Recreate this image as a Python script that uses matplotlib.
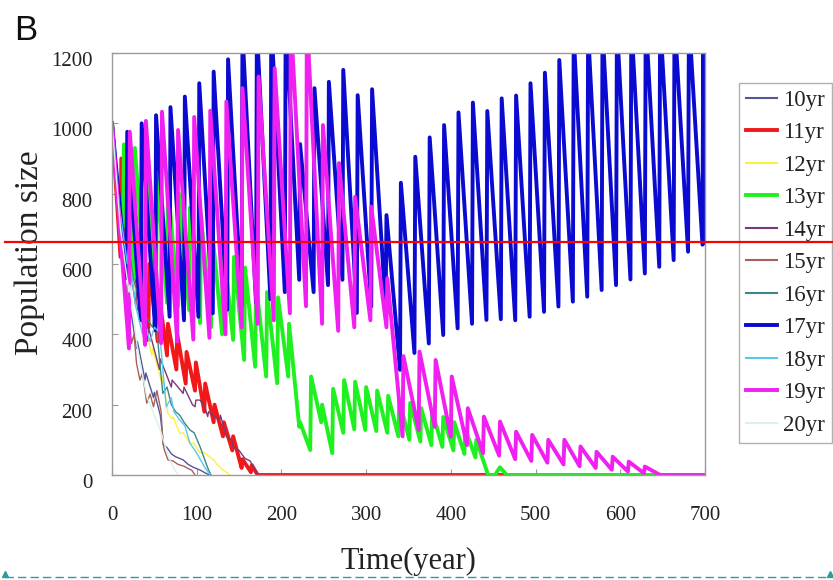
import matplotlib
matplotlib.use("Agg")
import matplotlib.pyplot as plt
import matplotlib.transforms as mtransforms
from matplotlib.lines import Line2D

plt.rcParams['font.family'] = ['Liberation Serif', 'DejaVu Serif']

# ---- data (year, population size) ----
t10 = [0, 9, 10, 19, 20, 29, 30, 39, 40, 49, 50, 57, 61, 65, 70, 75, 84, 90, 96, 104, 110, 115]
p10 = [1000, 640, 700, 470, 500, 360, 380, 270, 290, 220, 235, 170, 85, 78, 60, 52, 43, 30, 22, 14, 6, 0]

t11 = [0, 10, 11, 21, 22, 32, 33, 43, 44, 54, 55, 65, 66, 76, 77, 87, 88, 98, 99, 109, 110,
       120, 121, 131, 132, 142, 143, 153, 154, 164, 165, 172, 700]
p11 = [1000, 620, 900, 540, 780, 470, 680, 420, 600, 380, 520, 340, 430, 300, 400, 260, 350,
       240, 320, 180, 260, 150, 200, 110, 150, 70, 110, 20, 45, 8, 28, 0, 0]

t12 = [0, 11, 12, 23, 24, 35, 36, 47, 48, 59, 60, 66, 71, 72, 80, 84, 92, 96, 104, 108, 120, 124, 131, 135, 139]
p12 = [1000, 700, 760, 540, 580, 430, 460, 340, 360, 260, 280, 175, 160, 165, 118, 120, 90, 92, 62, 65, 43, 30, 14, 8, 0]

t13 = [0, 13, 14, 26, 27, 39, 40, 52, 53, 65, 66, 78, 79, 91, 92, 104, 105, 117, 118, 130, 131,
       143, 144, 156, 157, 169, 170, 182, 183, 195, 196, 208, 209, 221, 222, 234, 235, 247, 248,
       260, 261, 273, 274, 286, 287, 299, 300, 312, 313, 325, 326, 338, 339, 351, 352, 364, 365,
       377, 378, 390, 391, 403, 404, 416, 417, 429, 430, 444, 452, 458, 466, 700]
p13 = [1000, 600, 940, 560, 930, 530, 880, 510, 850, 490, 830, 480, 800, 469, 760, 432, 740,
       420, 700, 400, 660, 384, 620, 327, 590, 308, 545, 280, 520, 261, 505, 280, 430, 137, 150,
       71, 280, 150, 200, 62, 245, 120, 270, 130, 265, 128, 250, 125, 240, 120, 225, 110, 215,
       100, 205, 95, 190, 85, 180, 80, 165, 70, 150, 60, 130, 50, 100, 0, 0, 22, 0, 0]

t14 = [0, 14, 15, 28, 29, 42, 43, 56, 57, 70, 71, 84, 85, 95, 98, 99, 104, 110, 113, 114, 127,
       128, 135, 141, 143, 150, 157, 163, 171, 173]
p14 = [1000, 620, 700, 480, 530, 380, 420, 300, 330, 250, 270, 232, 250, 200, 194, 213, 213,
       190, 166, 180, 156, 170, 109, 100, 80, 70, 47, 40, 5, 0]

t15 = [0, 8, 15, 20, 23, 26, 29, 33, 36, 41, 45, 49, 53, 58, 60, 62, 66, 72, 78, 85, 90, 94, 98]
p15 = [1000, 700, 560, 460, 374, 400, 317, 270, 290, 204, 230, 194, 240, 180, 90, 70, 43, 40, 30, 25, 18, 14, 0]

t16 = [0, 8, 16, 17, 25, 32, 33, 40, 48, 49, 53, 56, 60, 65, 70, 75, 80, 85, 92, 97, 104, 110, 114, 117]
p16 = [1000, 800, 640, 700, 560, 500, 540, 450, 420, 440, 412, 330, 232, 250, 200, 180, 170, 150, 128, 120, 80, 40, 14, 0]

t17 = [0, 17, 18, 34, 35, 51, 52, 68, 69, 85, 86, 102, 103, 119, 120, 136, 137, 153, 154, 170, 171,
       187, 188, 204, 205, 221, 222, 238, 239, 255, 256, 272, 273, 289, 290, 306, 307, 323, 324,
       340, 341, 357, 358, 374, 375, 391, 392, 408, 409, 425, 426, 442, 443, 459, 460, 476, 477,
       493, 494, 510, 511, 527, 528, 544, 545, 561, 562, 578, 579, 595, 596, 612, 613, 629, 630,
       646, 647, 663, 664, 680, 681, 697, 698, 700]
p17 = [1000, 560, 976, 440, 1000, 412, 1023, 450, 1046, 440, 1076, 450, 1114, 460, 1147, 470,
       1182, 480, 1260, 490, 1270, 500, 1290, 520, 1300, 555, 941, 520, 1100, 540, 1118, 555,
       1152, 461, 1080, 479, 1097, 475, 739, 299, 831, 347, 905, 374, 960, 398, 995, 417, 1031,
       430, 1059, 441, 1035, 443, 1071, 440, 1079, 450, 1114, 464, 1144, 479, 1180, 493, 1250,
       507, 1260, 526, 1270, 540, 1280, 556, 1290, 573, 1300, 592, 1300, 611, 1300, 635, 1300,
       655, 1300, 659]

t18 = [0, 9, 18, 19, 28, 36, 37, 45, 50, 54, 55, 60, 64, 70, 73, 80, 86, 92, 98, 104, 110, 116]
p18 = [1000, 760, 600, 640, 480, 400, 440, 380, 420, 410, 440, 300, 194, 220, 180, 156, 140, 90, 70, 45, 20, 0]

t19 = [0, 20, 21, 39, 40, 58, 59, 77, 78, 96, 97, 115, 116, 134, 135, 153, 154, 172, 173, 191, 192,
       210, 211, 229, 230, 248, 249, 267, 268, 286, 287, 305, 306, 324, 325, 343, 344, 362, 363,
       381, 382, 400, 401, 419, 420, 438, 439, 457, 458, 476, 477, 495, 496, 514, 515, 533, 534,
       552, 553, 571, 572, 590, 591, 609, 610, 628, 629, 647, 648, 700]
p19 = [1000, 360, 976, 370, 1007, 375, 1033, 380, 981, 385, 1018, 390, 1036, 400, 1062, 420,
       1100, 430, 1133, 440, 1157, 460, 1300, 480, 1300, 430, 995, 410, 887, 420, 791, 440, 763,
       420, 560, 110, 338, 128, 351, 137, 327, 109, 280, 85, 190, 62, 166, 55, 152, 45, 123, 40,
       114, 35, 100, 30, 100, 25, 81, 20, 66, 15, 52, 10, 38, 5, 24, 0, 0, 0]

t20 = [0, 10, 20, 21, 30, 41, 50, 57, 63, 68, 72, 78]
p20 = [1000, 700, 520, 540, 360, 223, 170, 128, 80, 45, 24, 0]

labels = ["10yr", "11yr", "12yr", "13yr", "14yr", "15yr", "16yr", "17yr", "18yr", "19yr", "20yr"]
times = [t10, t11, t12, t13, t14, t15, t16, t17, t18, t19, t20]
sizes = [p10, p11, p12, p13, p14, p15, p16, p17, p18, p19, p20]
colors = ["#55559a", "#f01818", "#fff040", "#20f020", "#7a3a78", "#a8605c",
          "#3f8585", "#0a0ad0", "#58c8ee", "#f020f0", "#d8f2ea"]
widths = [1.0, 2.8, 1.0, 2.8, 1.0, 1.0, 1.0, 2.8, 1.0, 2.8, 1.0]

xticks = [0, 100, 200, 300, 400, 500, 600, 700]
yticks = [0, 200, 400, 600, 800, 1000, 1200]

W, H = 833, 580
fig = plt.figure(figsize=(W / 100, H / 100), dpi=100)
ax = fig.add_axes([112 / W, 1 - 475 / H, 593 / W, 422 / H])

for t, p, c, lw, lab in zip(times, sizes, colors, widths, labels):
    ax.plot(t, p, color=c, lw=lw, label=lab)

ax.set_xlim(0, 700)
ax.set_ylim(0, 1200)
ax.set_xticks(xticks)
ax.set_yticks(yticks)
for s in ax.spines.values():
    s.set_color("#9a9a9a")
    s.set_linewidth(1.0)
ax.tick_params(direction="in", length=4, color="#9a9a9a", labelsize=15, labelcolor="#222222")
ax.tick_params(axis="x", pad=22)
ax.tick_params(axis="y", pad=14)

# y tick labels sit a little below their ticks in the original
off = mtransforms.ScaledTranslation(0, -6 / 100, fig.dpi_scale_trans)
for lab in ax.get_yticklabels():
    lab.set_transform(lab.get_transform() + off)

fig.text(408 / W, 1 - 561 / H, "Time(year)", fontsize=22, ha="center", va="center", color="#222222")
fig.text(30 / W, 1 - 253 / H, "Population size", fontsize=24, rotation=90,
         ha="center", va="center", color="#222222")
fig.text(14 / W, 1 - 40 / H, "B", fontsize=25, family="Liberation Sans", color="#111111")

leg = fig.legend(loc="upper left", bbox_to_anchor=(739 / W, 1 - 83 / H), borderaxespad=0,
                 fontsize=16.5, handlelength=1.35, handletextpad=0.26, labelspacing=0.5,
                 borderpad=0.3, fancybox=False, edgecolor="#b0b0b0", framealpha=1)
leg.get_frame().set_linewidth(1.0)
for txt in leg.get_texts():
    txt.set_color("#222222")
for ln in leg.get_lines():
    ln.set_linewidth(max(ln.get_linewidth(), 1.5))

# overlay marks present in the reference image, drawn above everything
fig.add_artist(Line2D([5 / W, 1], [1 - 242 / H, 1 - 242 / H], color="red", lw=1.6,
                      transform=fig.transFigure, zorder=20))
fig.add_artist(Line2D([5 / W, 828 / W], [1 - 577 / H, 1 - 577 / H], color="#2f9c9c", lw=1.0,
                      ls=(0, (6, 3)), transform=fig.transFigure, zorder=20))
fig.add_artist(Line2D([5 / W], [1 - 574 / H], marker="^", ms=5, color="#2f9c9c", lw=0,
                      transform=fig.transFigure, zorder=20))
fig.add_artist(Line2D([830 / W], [1 - 574 / H], marker="^", ms=5, color="#2f9c9c", lw=0,
                      transform=fig.transFigure, zorder=20))

fig.savefig("out.png", dpi=100)
